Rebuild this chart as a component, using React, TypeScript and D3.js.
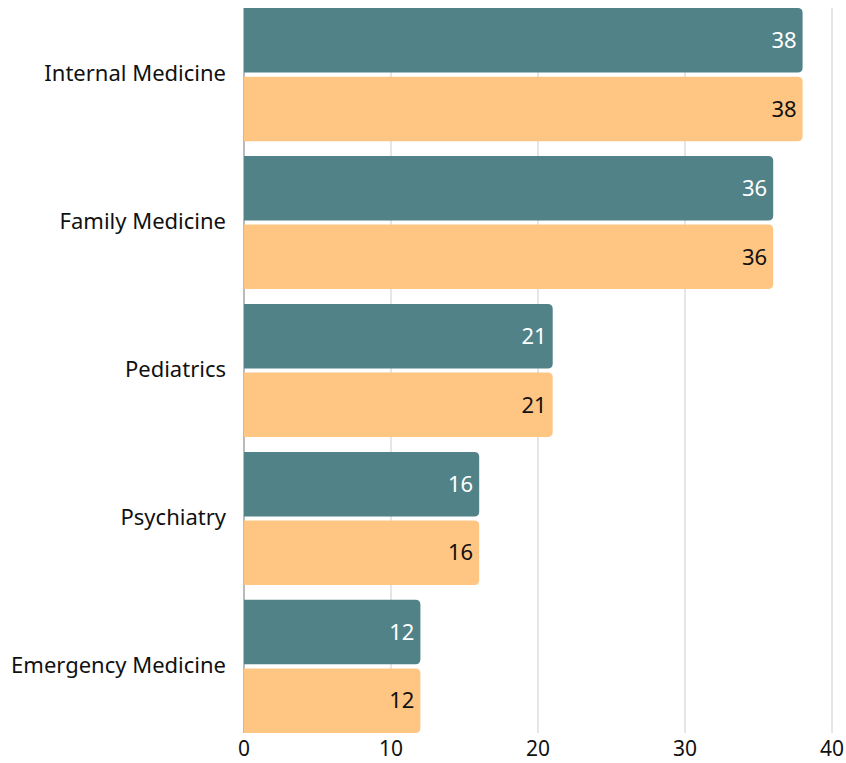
import React, { useEffect, useRef } from 'react';
import * as d3 from 'd3';

const categories = ['Internal Medicine', 'Family Medicine', 'Pediatrics', 'Psychiatry', 'Emergency Medicine'];
const seriesA = [38, 36, 21, 16, 12];
const seriesB = [38, 36, 21, 16, 12];
const xTicks = [0, 10, 20, 30, 40];

const W = 846;
const H = 763;
const TEAL = '#508287';
const ORANGE = '#ffc683';
const FONT = '"Noto Sans", "Open Sans", sans-serif';

// rect with rounded right corners only
const barPath = (x0: number, x1: number, y: number, h: number, r: number) => {
  const rr = Math.min(r, (x1 - x0) / 2, h / 2);
  return `M${x0},${y}H${x1 - rr}Q${x1},${y} ${x1},${y + rr}V${y + h - rr}Q${x1},${y + h} ${x1 - rr},${y + h}H${x0}Z`;
};

const App = () => {
  const svgRef = useRef<SVGSVGElement>(null);

  useEffect(() => {
    document.body.style.margin = '0';
    const svg = d3.select(svgRef.current);
    svg.selectAll('*').remove();

    const x = d3.scaleLinear().domain([0, 40]).range([244, 832]);
    const y = d3.scaleBand<string>().domain(categories).range([8, 733]).paddingInner(0.1).paddingOuter(0);
    const inner = d3.scaleBand<string>().domain(['a', 'b']).range([0, y.bandwidth()]).paddingInner(0.06);

    // grid
    svg.append('g')
      .selectAll('line')
      .data(xTicks.filter(t => t > 0))
      .enter().append('line')
      .attr('x1', d => x(d)).attr('x2', d => x(d))
      .attr('y1', 8).attr('y2', 733)
      .attr('stroke', '#cccccc').attr('stroke-width', 1);

    // axis line at zero
    svg.append('line')
      .attr('x1', x(0)).attr('x2', x(0))
      .attr('y1', 8).attr('y2', 733)
      .attr('stroke', '#777').attr('stroke-width', 1);

    const rows = categories.map((c, i) => ({ c, a: seriesA[i], b: seriesB[i] }));

    const g = svg.append('g');
    rows.forEach(d => {
      const y0 = y(d.c)!;
      [
        { k: 'a', v: d.a, fill: TEAL, text: '#ffffff' },
        { k: 'b', v: d.b, fill: ORANGE, text: '#111111' },
      ].forEach(s => {
        const by = y0 + inner(s.k)!;
        g.append('path')
          .attr('d', barPath(x(0), x(s.v), by, inner.bandwidth(), 5))
          .attr('fill', s.fill);
        g.append('text')
          .attr('x', x(s.v) - 6)
          .attr('y', by + inner.bandwidth() / 2)
          .attr('dy', '0.35em')
          .attr('text-anchor', 'end')
          .style('font-family', FONT)
          .style('font-size', '22px')
          .attr('fill', s.text)
          .text(s.v);
      });
    });

    // category labels
    svg.append('g')
      .selectAll('text')
      .data(categories)
      .enter().append('text')
      .attr('x', 226)
      .attr('y', d => y(d)! + y.bandwidth() / 2 - 1)
      .attr('dy', '0.35em')
      .attr('text-anchor', 'end')
      .style('font-family', FONT)
      .style('font-size', '22px')
      .attr('fill', '#111')
      .text(d => d);

    // x tick labels
    svg.append('g')
      .selectAll('text')
      .data(xTicks)
      .enter().append('text')
      .attr('x', d => x(d))
      .attr('y', 749)
      .attr('dy', '0.35em')
      .attr('text-anchor', 'middle')
      .style('font-family', FONT)
      .style('font-size', '21px')
      .attr('fill', '#111')
      .text(d => d);
  }, []);

  return <svg ref={svgRef} width={W} height={H} style={{ display: 'block' }}></svg>;
};

export default App;
